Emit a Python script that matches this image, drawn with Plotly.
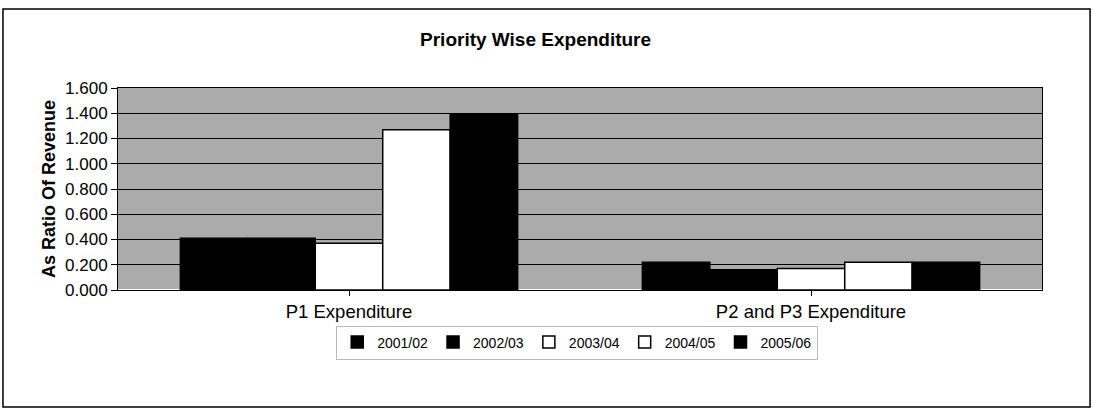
import plotly.graph_objects as go

categories = ["P1 Expenditure", "P2 and P3 Expenditure"]
years = ["2001/02", "2002/03", "2003/04", "2004/05", "2005/06"]
values = {
    "2001/02": [0.41, 0.22],
    "2002/03": [0.41, 0.16],
    "2003/04": [0.37, 0.17],
    "2004/05": [1.27, 0.22],
    "2005/06": [1.39, 0.22],
}
colors = {
    "2001/02": "black",
    "2002/03": "black",
    "2003/04": "white",
    "2004/05": "white",
    "2005/06": "black",
}
y_ticks = [0.0, 0.2, 0.4, 0.6, 0.8, 1.0, 1.2, 1.4, 1.6]

fig = go.Figure()
for y in years:
    fig.add_trace(go.Bar(
        x=categories, y=values[y], name=y,
        marker=dict(color=colors[y], line=dict(color="black", width=1.5)),
    ))

fig.update_layout(
    width=1093, height=415,
    paper_bgcolor="white", plot_bgcolor="#ababab",
    margin=dict(l=118, r=51, t=88, b=125),
    barmode="group", bargap=0.27, bargroupgap=0,
    font=dict(family="Liberation Sans, Arial, sans-serif", size=17, color="black"),
    title=dict(text="<b>Priority Wise Expenditure</b>", x=0.49, xanchor="center",
               y=0.905, yanchor="middle", font=dict(size=19)),
    legend=dict(orientation="h", x=0.497, xanchor="center", y=-0.26, yanchor="middle",
                bordercolor="#bbbbbb", borderwidth=1, font=dict(size=14),
                itemwidth=30, tracegroupgap=0),
    shapes=[dict(type="rect", xref="paper", yref="paper",
                 x0=-0.1245, x1=1.052, y0=-0.579, y1=1.391,
                 line=dict(color="black", width=1.5))],
)
fig.update_xaxes(showline=True, linecolor="black", linewidth=1, mirror=True,
                 ticks="outside", ticklen=5, tickcolor="black", showgrid=False,
                 tickfont=dict(size=18.5))
fig.update_yaxes(range=[0, 1.6], tickvals=y_ticks, tickformat=".3f",
                 showline=True, linecolor="black", linewidth=1, mirror=True,
                 ticks="outside", ticklen=6, tickcolor="black",
                 showgrid=True, gridcolor="black", gridwidth=1,
                 title=dict(text="<b>As Ratio Of Revenue</b>", font=dict(size=18), standoff=4),
                 tickfont=dict(size=17))

fig.write_html("out.html", config={"displayModeBar": False})
with open("out.html", "r", encoding="utf-8") as f:
    html = f.read()
html = html.replace("<head>", "<head><style>html,body{margin:0;padding:0;}</style>", 1)
with open("out.html", "w", encoding="utf-8") as f:
    f.write(html)
